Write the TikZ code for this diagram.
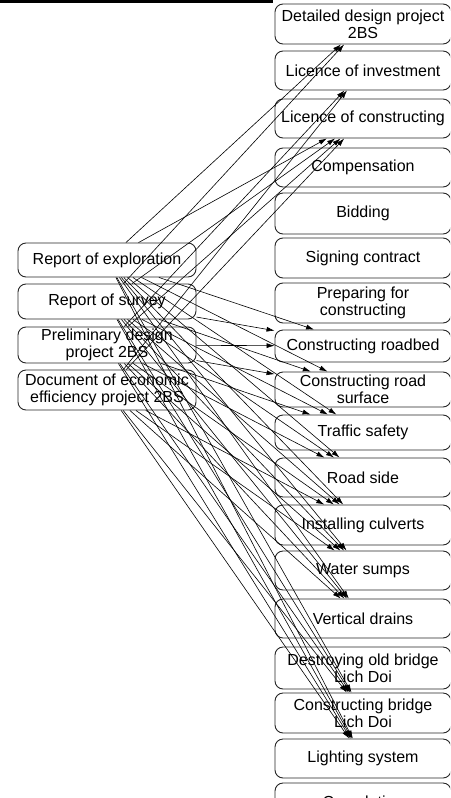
\documentclass[tikz,border=0pt]{standalone}
\usepackage{fontspec}
\setmainfont{Liberation Sans}
\usetikzlibrary{arrows.meta}
\tikzset{
  box/.style={draw=black!85, line width=0.9pt, rounded corners=8pt, inner sep=0pt,
    align=center, font=\fontsize{16}{17}\selectfont},
  rbox/.style={box, minimum width=176pt},
  lbox/.style={box, minimum width=178pt},
  edge/.style={line width=0.6pt, -{Latex[length=8pt,width=5pt]}},
  topbar/.style={line width=2.7pt}
}
\newcommand{\rnode}[4]{\node[rbox, minimum height=#3-#2] (#1) at (363,{(#2+#3)/2}) {#4};}
\newcommand{\lnode}[4]{\node[lbox, minimum height=#3-#2] (#1) at (107,{(#2+#3)/2}) {#4};}
\begin{document}
\begin{tikzpicture}[x=1pt,y=-1pt]
\useasboundingbox (0,0) rectangle (450,798);
\clip (0,0) rectangle (450,798);
\coordinate (barA) at (0,1.3);
\coordinate (barB) at (273,1.3);
\draw[topbar] (barA) -- (barB);
% right column
\rnode{t1}{4}{44}{Detailed design project\\2BS}
\rnode{t2}{51}{90}{Licence of investment}
\rnode{t3}{99}{138}{Licence of constructing}
\rnode{t4}{148}{187}{Compensation}
\rnode{t5}{193}{234}{Bidding}
\rnode{t6}{238}{278}{Signing contract}
\rnode{t7}{283}{323}{Preparing for\\constructing}
\rnode{t8}{330}{362}{Constructing roadbed}
\rnode{t9}{372}{407}{Constructing road\\surface}
\rnode{t10}{415}{450}{Traffic safety}
\rnode{t11}{458}{497}{Road side}
\rnode{t12}{505}{545}{Installing culverts}
\rnode{t13}{551}{590}{Water sumps}
\rnode{t14}{599}{638}{Vertical drains}
\rnode{t15}{647}{689}{Destroying old bridge\\Lich Doi}
\rnode{t16}{693}{733}{Constructing bridge\\Lich Doi}
\rnode{t17}{739}{778}{Lighting system}
\rnode{t18}{783}{824}{Completion}
% left column
\lnode{s1}{243}{277}{Report of exploration}
\lnode{s2}{284}{319}{Report of survey}
\lnode{s3}{327}{363}{Preliminary design\\project 2BS}
\lnode{s4}{370}{410}{Document of economic\\efficiency project 2BS}
% edges upwards
\draw[edge] (s1) -- (t1);
\draw[edge] (s2) -- (t1);
\draw[edge] (s3) -- (t2);
\draw[edge] (s4) -- (t2);
\foreach \s in {s1,s2,s3,s4} \draw[edge] (\s) -- (t3);
% edges downwards
\foreach \t in {t8,t9,t10,t11}
  \foreach \s in {s1,s2,s3} \draw[edge] (\s) -- (\t);
\foreach \t in {t12,t13,t14,t16,t17}
  \foreach \s in {s1,s2,s3,s4} \draw[edge] (\s) -- (\t);
\end{tikzpicture}
\end{document}
